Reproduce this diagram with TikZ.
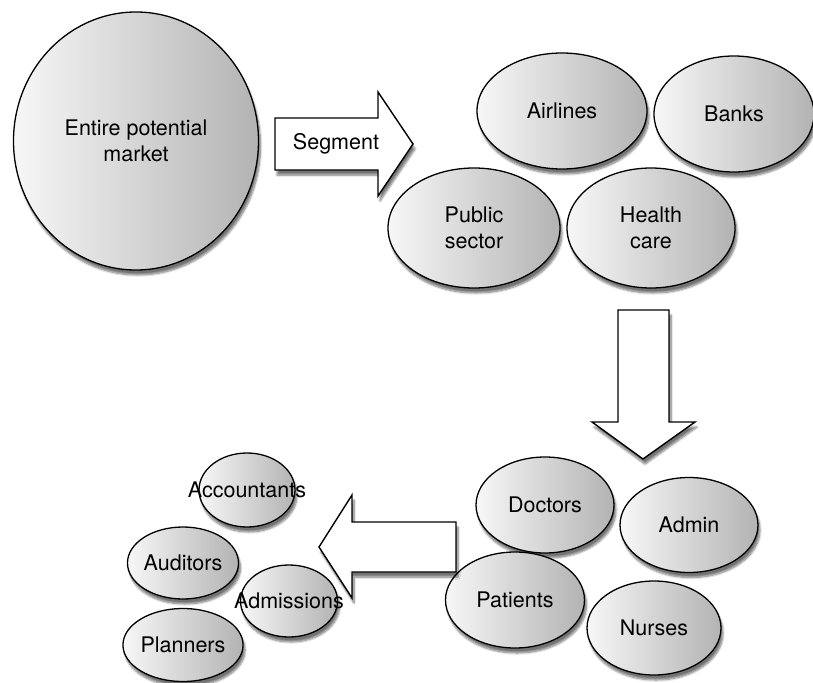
\documentclass[tikz,border=0pt]{standalone}
\usepackage{fontspec}
\setmainfont{TeX Gyre Heros}
\usetikzlibrary{shapes.geometric,
	shadows.blur
}
\definecolor{paleseg}{HTML}{F7F7F7}
\definecolor{darkseg}{HTML}{B3B3B3}

\begin{document}
\begin{tikzpicture}[x=1pt,y=-1pt,
	segshadow/.style={blur shadow={shadow xshift=2pt,shadow yshift=-5pt,shadow blur steps=8,shadow opacity=55}},
	market/.style={ellipse,draw=black,line width=1.3pt,inner sep=0pt,left color=paleseg,right color=darkseg,segshadow,
		font=\fontsize{21.5}{26}\selectfont,align=center},
	bigarrow/.style={draw=black,line width=1.4pt,fill=white,line join=miter,segshadow},
	word/.style={font=\fontsize{21.5}{26}\selectfont,align=center}]
		\useasboundingbox (0,0) rectangle (813,682);
		%
		\node[market,minimum width=245pt,minimum height=258pt] (entire) at (136,141) {Entire potential\\market};
		%
		\filldraw[bigarrow] (275,118) -- (378,118) -- (378,92) -- (413,144) -- (378,196) -- (378,170) -- (275,170) -- cycle;
		\node[word] (segment) at (336,144) {Segment};
		%
		\node[market,minimum width=170pt,minimum height=116pt] (airlines) at (562,111) {Airlines};
		\node[market,minimum width=160pt,minimum height=116pt] (banks) at (734,114) {Banks};
		\node[market,minimum width=172pt,minimum height=120pt] (public) at (474,228) {Public\\sector};
		\node[market,minimum width=168pt,minimum height=120pt] (health) at (651,228) {Health\\care};
		%
		\filldraw[bigarrow] (618,310) -- (669,310) -- (669,422) -- (695,422) -- (643,459) -- (592,422) -- (618,422) -- cycle;
		%
		\node[market,minimum width=138pt,minimum height=96pt] (doctors) at (545,505) {Doctors};
		\node[market,minimum width=138pt,minimum height=95pt] (admin) at (689,525) {Admin};
		\node[market,minimum width=139pt,minimum height=96pt] (patients) at (515,600) {Patients};
		\node[market,minimum width=134pt,minimum height=94pt] (nurses) at (654,628) {Nurses};
		%
		\filldraw[bigarrow] (456,522) -- (352,522) -- (352,495) -- (319,547) -- (352,598) -- (352,572) -- (456,572) -- cycle;
		%
		\node[market,minimum width=96pt,minimum height=74pt] (accountants) at (247,490) {\makebox[0pt]{Accountants}};
		\node[market,minimum width=98pt,minimum height=72pt] (auditors) at (183,563) {Auditors};
		\node[market,minimum width=97pt,minimum height=72pt] (admissions) at (289,601) {\makebox[0pt]{Admissions}};
		\node[market,minimum width=98pt,minimum height=73pt] (planners) at (183,645) {Planners};
	\end{tikzpicture}
\end{document}
